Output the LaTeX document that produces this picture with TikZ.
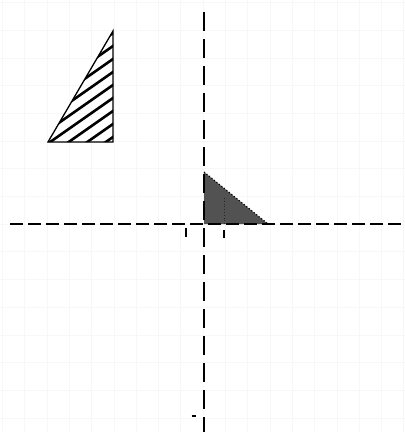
\documentclass[tikz,border=0pt]{standalone}
\begin{document}
\begin{tikzpicture}[x=1pt,y=-1pt,
  gridline/.style={draw=black!3,line width=0.6pt},
  axisline/.style={draw=black,line width=1.8pt},
  tickmark/.style={draw=black,line width=1.2pt},
  hatchline/.style={draw=black,line width=2.6pt}]
\useasboundingbox (0,0) rectangle (405,432);
\fill[white] (0,0) rectangle (405,432);
% faint grid
\foreach \k in {-9,...,9} {
  \draw[gridline] ({203+22.3*\k},0) -- ({203+22.3*\k},432);
}
\foreach \k in {-8,...,8} {
  \draw[gridline] (0,{224+27.7*\k}) -- (405,{224+27.7*\k});
}
% hatched triangle
\coordinate (ha) at (48,142);
\coordinate (hb) at (113,142);
\coordinate (hc) at (113,31);
\begin{scope}
  \clip (ha) -- (hb) -- (hc) -- cycle;
  \foreach \y in {20,33,...,170} {
    \draw[hatchline] (125,{\y-8.4}) -- (20,{\y+65.1});
  }
\end{scope}
\draw[line width=1.3pt,line join=miter] (ha) -- (hb) -- (hc) -- cycle;
% dark triangle
\coordinate (da) at (204,224);
\coordinate (db) at (268,224);
\coordinate (dc) at (204,172);
\fill[black!68] (da) -- (db) -- (dc) -- cycle;
\draw[black,line width=1.2pt,dotted] (dc) -- (db);
\draw[black!85,line width=0.8pt,dotted] (224,198) -- (224,224);
% axes
\coordinate (xl) at (10,224);
\coordinate (xr) at (405,224);
\coordinate (yt) at (204,12);
\coordinate (yb) at (204,432);
\draw[axisline,dash pattern=on 13pt off 5pt] (xl) -- (xr);
\draw[axisline,dash pattern=on 19pt off 8pt] (yt) -- (yb);
% small ticks
\draw[tickmark] (186,228) -- (186,237);
\draw[tickmark] (224,230) -- (224,238);
\draw[tickmark] (191.5,416) -- (195.5,416);
\end{tikzpicture}
\end{document}
